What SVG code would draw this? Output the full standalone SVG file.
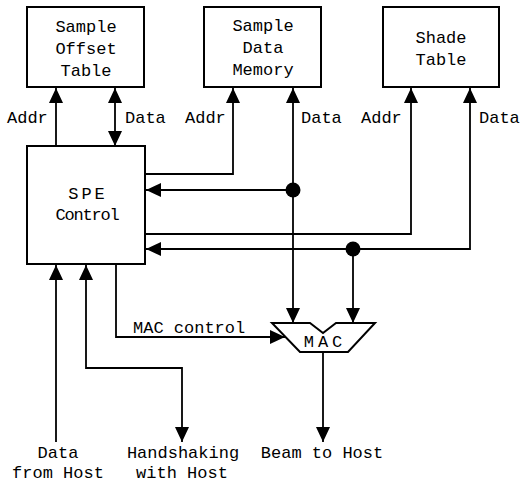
<svg xmlns="http://www.w3.org/2000/svg" width="521" height="485" viewBox="0 0 521 485">
  <style>
    text { font-family: "Liberation Mono", "Courier New", monospace; font-size: 17px; fill: #000; }
    .c { text-anchor: middle; }
    .box { fill: #fff; stroke: #000; stroke-width: 2; }
    .w { fill: none; stroke: #000; stroke-width: 1.8; }
  </style>
  <defs>
    <marker id="ah" markerUnits="userSpaceOnUse" markerWidth="16" markerHeight="14" viewBox="0 0 16 14" refX="15" refY="7" orient="auto-start-reverse">
      <path d="M0,0 L15,7 L0,14 Z" fill="#000"/>
    </marker>
  </defs>

  <rect width="521" height="485" fill="#fff"/>

  <!-- wiring between blocks -->
  <g id="connectors">
    <!-- Sample Offset Table bus -->
    <path class="w" d="M56,146 V88" marker-end="url(#ah)"/>
    <path class="w" d="M115,88 V146" marker-start="url(#ah)" marker-end="url(#ah)"/>
    <!-- Sample Data Memory bus -->
    <path class="w" d="M145,174 H233 V88" marker-end="url(#ah)"/>
    <path class="w" d="M293,190 V88" marker-end="url(#ah)"/>
    <path class="w" d="M293,190 V323" marker-end="url(#ah)"/>
    <path class="w" d="M293,190 H146" marker-end="url(#ah)"/>
    <circle cx="293" cy="190" r="7.5" fill="#000"/>
    <!-- Shade Table bus -->
    <path class="w" d="M145,234 H411 V88" marker-end="url(#ah)"/>
    <path class="w" d="M353,249 H470 V88" marker-end="url(#ah)"/>
    <path class="w" d="M353,249 H146" marker-end="url(#ah)"/>
    <path class="w" d="M353,249 V323" marker-end="url(#ah)"/>
    <circle cx="353" cy="249" r="7.5" fill="#000"/>
    <!-- control and host lines -->
    <path class="w" d="M116,264 V337 H285" marker-end="url(#ah)"/>
    <path class="w" d="M56,442 V265" marker-end="url(#ah)"/>
    <path class="w" d="M86,265 V368 H182 V442" marker-start="url(#ah)" marker-end="url(#ah)"/>
    <path class="w" d="M323,352 V442" marker-end="url(#ah)"/>

    <text x="7" y="123">Addr</text>
    <text x="125" y="123">Data</text>
    <text x="185" y="123">Addr</text>
    <text x="301" y="123">Data</text>
    <text x="361" y="123">Addr</text>
    <text x="479" y="123">Data</text>
    <text x="133" y="333">MAC control</text>
    <text class="c" x="58" y="458">Data</text>
    <text class="c" x="58" y="478">from Host</text>
    <text class="c" x="183" y="458">Handshaking</text>
    <text class="c" x="182" y="478">with Host</text>
    <text class="c" x="322" y="458">Beam to Host</text>
  </g>

  <g id="sample-offset-table">
    <rect class="box" x="27" y="7" width="117" height="80"/>
    <text class="c" x="86" y="32">Sample</text>
    <text class="c" x="86" y="54">Offset</text>
    <text class="c" x="86" y="76">Table</text>
  </g>

  <g id="sample-data-memory">
    <rect class="box" x="204" y="7" width="117" height="80"/>
    <text class="c" x="263" y="31">Sample</text>
    <text class="c" x="263" y="53">Data</text>
    <text class="c" x="263" y="75">Memory</text>
  </g>

  <g id="shade-table">
    <rect class="box" x="383" y="7" width="116" height="80"/>
    <text class="c" x="441" y="43">Shade</text>
    <text class="c" x="441" y="65">Table</text>
  </g>

  <g id="spe-control">
    <rect class="box" x="27" y="146" width="118" height="118"/>
    <text class="c" x="88" y="199" letter-spacing="3">SPE</text>
    <text class="c" x="87" y="220" letter-spacing="-1.2">Control</text>
  </g>

  <g id="mac">
    <polygon class="box" points="272,323 310,323 323,333 336,323 375,323 348,352 300,352"/>
    <text class="c" x="325" y="347" letter-spacing="4">MAC</text>
  </g>
</svg>
